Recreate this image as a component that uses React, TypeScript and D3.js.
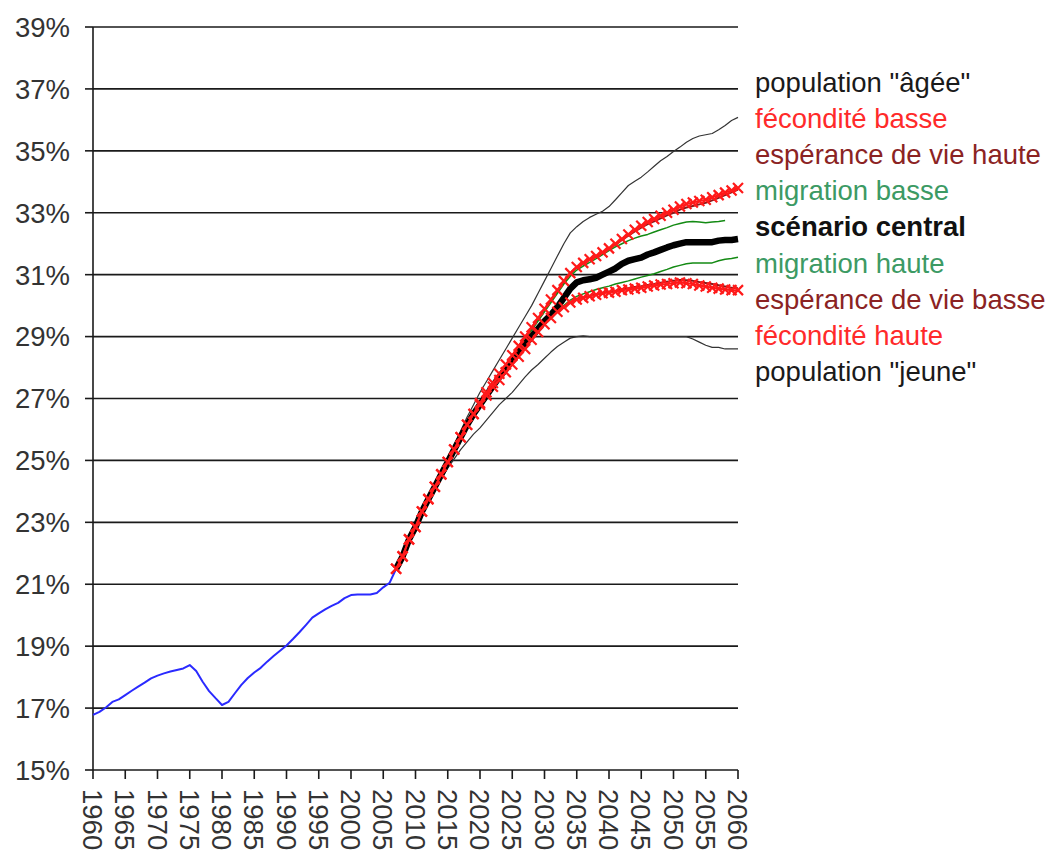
import React from "react";
import * as d3 from "d3";

// ---- DATA ----
const histYears = d3.range(1960, 2008);
const histValues = [
  16.78, 16.88, 17.02, 17.2, 17.28, 17.42, 17.56, 17.69, 17.82, 17.96,
  18.05, 18.12, 18.18, 18.23, 18.28, 18.39, 18.2, 17.85, 17.55, 17.32,
  17.1, 17.2, 17.48, 17.75, 17.97, 18.15, 18.3, 18.5, 18.68, 18.85,
  19.02, 19.23, 19.45, 19.68, 19.92, 20.06, 20.19, 20.3, 20.4, 20.55,
  20.65, 20.67, 20.67, 20.67, 20.72, 20.9, 21.05, 21.5,
];

const projYears = d3.range(2007, 2061);

const populationAgee = [
  21.5, 21.9, 22.45, 22.9, 23.35, 23.75, 24.2, 24.6, 25.05, 25.5,
  25.95, 26.4, 26.8, 27.2, 27.55, 27.9, 28.25, 28.6, 28.95, 29.3,
  29.65, 30.0, 30.4, 30.8, 31.2, 31.6, 32.0, 32.35, 32.55, 32.72,
  32.85, 32.95, 33.05, 33.2, 33.42, 33.65, 33.88, 34.02, 34.15, 34.32,
  34.5, 34.68, 34.82, 34.98, 35.12, 35.28, 35.4, 35.48, 35.52, 35.56,
  35.68, 35.82, 35.98, 36.08,
];

const feconditeBasse = [
  21.5, 21.9, 22.45, 22.85, 23.35, 23.75, 24.15, 24.55, 24.95, 25.35,
  25.75, 26.15, 26.5, 26.85, 27.2, 27.5, 27.8, 28.1, 28.4, 28.7,
  29.0, 29.3, 29.6, 29.9, 30.2, 30.5, 30.8, 31.05, 31.25, 31.38,
  31.5, 31.6, 31.72, 31.85, 32.0, 32.15, 32.3, 32.45, 32.58, 32.7,
  32.8, 32.9, 33.0, 33.1, 33.2, 33.28, 33.33, 33.38, 33.42, 33.5,
  33.57, 33.65, 33.72, 33.8,
];

const esperanceHaute = [
  21.5, 21.9, 22.45, 22.85, 23.35, 23.75, 24.15, 24.55, 24.95, 25.35,
  25.75, 26.15, 26.5, 26.84, 27.18, 27.48, 27.78, 28.08, 28.38, 28.68,
  28.98, 29.28, 29.58, 29.88, 30.18, 30.48, 30.78, 31.03, 31.23, 31.36,
  31.48, 31.58, 31.7, 31.83, 31.97, 32.12, 32.26, 32.4, 32.52, 32.63,
  32.72, 32.82, 32.92, 33.0, 33.1, 33.17, 33.22, 33.27, 33.32, 33.4,
  33.48, 33.57, 33.66, 33.75,
];

const migrationBasse = [
  21.5, 21.9, 22.45, 22.85, 23.35, 23.75, 24.15, 24.55, 24.95, 25.35,
  25.75, 26.15, 26.5, 26.82, 27.15, 27.45, 27.75, 28.05, 28.35, 28.6,
  28.9, 29.2, 29.5, 29.8, 30.1, 30.4, 30.7, 30.95, 31.15, 31.28,
  31.4, 31.52, 31.65, 31.78, 31.9, 32.0, 32.1, 32.18, 32.25, 32.3,
  32.38, 32.45, 32.52, 32.6, 32.65, 32.7, 32.72, 32.7, 32.68, 32.7,
  32.72, 32.75,
];

const scenarioCentral = [
  21.5, 21.9, 22.45, 22.85, 23.35, 23.75, 24.15, 24.55, 24.95, 25.35,
  25.75, 26.15, 26.5, 26.8, 27.1, 27.4, 27.7, 27.95, 28.25, 28.5,
  28.75, 29.0, 29.25, 29.5, 29.7, 29.95, 30.25, 30.55, 30.75, 30.82,
  30.85, 30.9, 31.0, 31.1, 31.2, 31.35, 31.45, 31.5, 31.55, 31.65,
  31.72, 31.8, 31.88, 31.95, 32.0, 32.05, 32.05, 32.05, 32.05, 32.05,
  32.1, 32.12, 32.12, 32.15,
];

const migrationHaute = [
  21.5, 21.9, 22.45, 22.85, 23.35, 23.75, 24.15, 24.55, 24.95, 25.35,
  25.75, 26.15, 26.5, 26.8, 27.1, 27.38, 27.62, 27.88, 28.12, 28.38,
  28.62, 28.9, 29.15, 29.4, 29.62, 29.82, 30.0, 30.18, 30.3, 30.38,
  30.45, 30.52, 30.58, 30.63, 30.7, 30.75, 30.8, 30.86, 30.92, 30.97,
  31.03, 31.1, 31.17, 31.25, 31.3, 31.35, 31.38, 31.38, 31.38, 31.38,
  31.45, 31.5, 31.52, 31.56,
];

const esperanceBasse = [
  21.5, 21.9, 22.45, 22.85, 23.35, 23.75, 24.15, 24.55, 24.95, 25.35,
  25.75, 26.15, 26.5, 26.8, 27.1, 27.38, 27.6, 27.85, 28.1, 28.35,
  28.6, 28.9, 29.15, 29.4, 29.6, 29.8, 29.95, 30.1, 30.2, 30.26,
  30.31, 30.36, 30.42, 30.45, 30.48, 30.53, 30.56, 30.6, 30.63, 30.67,
  30.7, 30.74, 30.77, 30.8, 30.83, 30.82, 30.8, 30.76, 30.73, 30.7,
  30.66, 30.62, 30.58, 30.56,
];

const feconditeHaute = [
  21.5, 21.9, 22.45, 22.85, 23.35, 23.75, 24.15, 24.55, 24.95, 25.35,
  25.75, 26.15, 26.5, 26.8, 27.1, 27.38, 27.6, 27.85, 28.1, 28.35,
  28.6, 28.9, 29.15, 29.4, 29.6, 29.8, 29.95, 30.1, 30.2, 30.25,
  30.3, 30.35, 30.4, 30.42, 30.45, 30.5, 30.52, 30.55, 30.58, 30.62,
  30.65, 30.68, 30.7, 30.72, 30.75, 30.72, 30.7, 30.65, 30.62, 30.58,
  30.55, 30.52, 30.5, 30.5,
];

const populationJeune = [
  21.5, 21.9, 22.4, 22.85, 23.25, 23.65, 24.05, 24.4, 24.75, 25.05,
  25.35, 25.6, 25.85, 26.05, 26.3, 26.55, 26.8, 27.0, 27.2, 27.45,
  27.7, 27.92, 28.1, 28.3, 28.5, 28.68, 28.82, 28.95, 29.0, 29.02,
  29.0, 29.0, 29.0, 29.0, 29.0, 29.0, 29.0, 29.0, 29.0, 29.0,
  29.0, 29.0, 29.0, 29.0, 29.0, 29.0, 28.92, 28.82, 28.72, 28.65,
  28.65, 28.6, 28.6, 28.6,
];

const yTicks = d3.range(15, 40, 2);
const xTicks = d3.range(1960, 2061, 5);

const legendItems = [
  { label: 'population "âgée"', color: "#1a1a1a", bold: false },
  { label: "fécondité basse", color: "#ff2a2a", bold: false },
  { label: "espérance de vie haute", color: "#8b2323", bold: false },
  { label: "migration basse", color: "#3c9a64", bold: false },
  { label: "scénario central", color: "#111111", bold: true },
  { label: "migration haute", color: "#3c9a64", bold: false },
  { label: "espérance de vie basse", color: "#8b2323", bold: false },
  { label: "fécondité haute", color: "#ff2a2a", bold: false },
  { label: 'population "jeune"', color: "#1a1a1a", bold: false },
];

// ---- CHART ----
const W = 1058;
const H = 855;
const FONT = "'Liberation Sans', Arial, sans-serif";

const x = d3.scaleLinear().domain([1960, 2060]).range([93, 738]);
const y = d3.scaleLinear().domain([15, 39]).range([770, 27]);

type P = [number, number];
const toPts = (yrs: number[], vals: number[]): P[] =>
  vals.map((v, i) => [yrs[i], v] as P);

const line = d3
  .line<P>()
  .x((d) => x(d[0]))
  .y((d) => y(d[1]));

export default function App() {
  const series = [
    { pts: toPts(projYears, populationAgee), color: "#333", w: 1.2, marker: false },
    { pts: toPts(projYears, populationJeune), color: "#333", w: 1.2, marker: false },
    { pts: toPts(projYears, esperanceHaute), color: "#8b1a1a", w: 2, marker: false },
    { pts: toPts(projYears, esperanceBasse), color: "#8b1a1a", w: 2, marker: false },
    { pts: toPts(projYears, migrationBasse), color: "#138a13", w: 1.5, marker: false },
    { pts: toPts(projYears, migrationHaute), color: "#138a13", w: 1.5, marker: false },
    { pts: toPts(projYears, scenarioCentral), color: "#000", w: 6.5, marker: false },
    { pts: toPts(projYears, feconditeBasse), color: "#ff1a1a", w: 2, marker: true },
    { pts: toPts(projYears, feconditeHaute), color: "#ff1a1a", w: 2, marker: true },
  ];
  const hist = toPts(histYears, histValues);
  const m = 5;

  return (
    <svg
      width={W}
      height={H}
      style={{ position: "absolute", left: 0, top: 0, background: "#fff" }}
      fontFamily={FONT}
    >
      <rect x={0} y={0} width={W} height={H} fill="#fff" />
      {/* gridlines */}
      {yTicks.map((t) => (
        <g key={t}>
          <line x1={x(1960)} x2={x(2060)} y1={y(t)} y2={y(t)} stroke="#1a1a1a" strokeWidth={1.6} />
          <line x1={x(1960) - 8} x2={x(1960)} y1={y(t)} y2={y(t)} stroke="#1a1a1a" strokeWidth={1.6} />
          <text x={70} y={y(t)} dy="0.36em" textAnchor="end" fontSize={27.5} fill="#333">
            {t}%
          </text>
        </g>
      ))}
      {/* axes */}
      <line x1={x(1960)} x2={x(1960)} y1={y(39)} y2={y(15)} stroke="#1a1a1a" strokeWidth={1.6} />
      {xTicks.map((t) => (
        <g key={t}>
          <line x1={x(t)} x2={x(t)} y1={y(15)} y2={y(15) + 9} stroke="#1a1a1a" strokeWidth={1.6} />
          <text
            transform={`translate(${x(t)},${y(15) + 19}) rotate(90)`}
            dy="0.36em"
            textAnchor="start"
            fontSize={27.5}
            fill="#333"
          >
            {t}
          </text>
        </g>
      ))}
      {/* historical */}
      <path d={line(hist) || ""} fill="none" stroke="#2a2aff" strokeWidth={2} strokeLinejoin="round" />
      {/* projections */}
      {series.map((s, i) => (
        <g key={i}>
          <path
            d={line(s.pts) || ""}
            fill="none"
            stroke={s.color}
            strokeWidth={s.w}
            strokeLinejoin="round"
          />
          {s.marker &&
            s.pts.map((p, j) => (
              <path
                key={j}
                d={`M${x(p[0]) - m},${y(p[1]) - m}L${x(p[0]) + m},${y(p[1]) + m}M${x(p[0]) - m},${y(p[1]) + m}L${x(p[0]) + m},${y(p[1]) - m}`}
                stroke={s.color}
                strokeWidth={2.2}
                fill="none"
              />
            ))}
        </g>
      ))}
      {/* legend */}
      {legendItems.map((it, i) => (
        <text
          key={it.label}
          x={755}
          y={92 + i * 36.1}
          fontSize={27.5}
          fill={it.color}
          fontWeight={it.bold ? "bold" : "normal"}
        >
          {it.label}
        </text>
      ))}
    </svg>
  );
}
